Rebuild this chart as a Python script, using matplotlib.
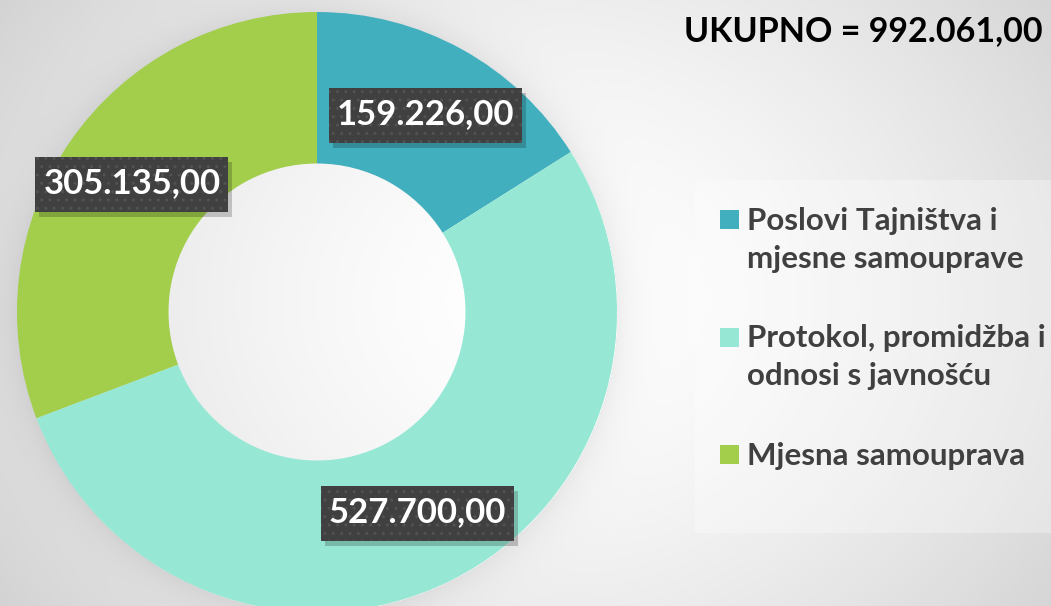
import numpy as np
import matplotlib
matplotlib.use("Agg")
import matplotlib.pyplot as plt
from matplotlib.patches import Rectangle

# ---- data ----
categories = ["Poslovi Tajništva i\nmjesne samouprave",
              "Protokol, promidžba i\nodnosi s javnošću",
              "Mjesna samouprava"]
values = [159226.00, 527700.00, 305135.00]
value_labels = ["159.226,00", "527.700,00", "305.135,00"]
title_text = "UKUPNO = 992.061,00"
colors = ["#42AFBF", "#96E8D5", "#A2CE4C"]

W, H = 1051, 606
FONT = ["Lato", "DejaVu Sans"]

fig = plt.figure(figsize=(W / 100, H / 100), dpi=100)

# background radial gradient
bg = fig.add_axes([0, 0, 1, 1], zorder=0)
yy, xx = np.mgrid[0:H, 0:W]
r = np.hypot((xx - 540) / 620.0, (yy - 300) / 520.0)
val = 1.0 - 0.16 * np.clip(r, 0, 1.4) ** 1.6
cx, cy, R = 317, 312, 300
d = np.hypot(xx - cx, yy - cy) - R
shadow = 0.06 * np.exp(-np.clip(d, 0, None) / 18.0) * (d > 0)
val = val - shadow
img = np.dstack([val, val, val])
bg.imshow(np.clip(img, 0, 1), extent=[0, W, 0, H], origin="upper", aspect="auto")
bg.set_axis_off()

ax = fig.add_axes([0, 0, 1, 1], zorder=1)
ax.patch.set_alpha(0)
wedges, _ = ax.pie(values, colors=colors, startangle=90, counterclock=False,
                   center=(cx, H - cy), radius=R,
                   wedgeprops=dict(width=R * 0.505, edgecolor="none", linewidth=0))
ax.set_xlim(0, W)
ax.set_ylim(0, H)
ax.set_aspect("equal")
ax.set_axis_off()

# value labels at wedge mid-angles, mid ring
rl = R * 0.75
for w, lab in zip(wedges, value_labels):
    ang = np.deg2rad((w.theta1 + w.theta2) / 2)
    x = cx + rl * np.cos(ang)
    y = (H - cy) + rl * np.sin(ang)
    bw, bh = 193, 55
    ax.add_patch(Rectangle((x - bw / 2 + 4, y - bh / 2 - 5), bw, bh,
                           facecolor="black", alpha=0.2, edgecolor="none", zorder=3))
    ax.add_patch(Rectangle((x - bw / 2, y - bh / 2), bw, bh,
                           facecolor="#404040", edgecolor="none", zorder=4))
    ax.add_patch(Rectangle((x - bw / 2, y - bh / 2), bw, bh,
                           facecolor="none", edgecolor="#525252", linewidth=0,
                           hatch="..", zorder=4.5))
    ax.text(x, y + 1, lab, ha="center", va="center", color="white",
            fontsize=25, fontweight="bold", family=FONT, zorder=5)

# title
fig.text(1043 / W, 1 - 31 / H, title_text, ha="right", va="center",
         fontsize=24.5, fontweight="bold", family=FONT, color="black")

# legend box
ax.add_patch(Rectangle((695, H - 533), W - 695, 533 - 180, facecolor="white",
                       alpha=0.3, edgecolor="none", zorder=2))

# legend (manual, square aligned with first line)
for i, (c, lab) in enumerate(zip(colors, categories)):
    base = 230 + i * 117.5
    ax.add_patch(Rectangle((720, H - (base - 10.5) - 9.5), 19, 19,
                           facecolor=c, edgecolor="none", zorder=5))
    for j, line in enumerate(lab.split("\n")):
        ax.text(747, H - (base + j * 38), line, ha="left", va="baseline",
                color="#404040", fontsize=22.5, fontweight="bold",
                family=FONT, zorder=5)

fig.savefig("out.png", dpi=100)
